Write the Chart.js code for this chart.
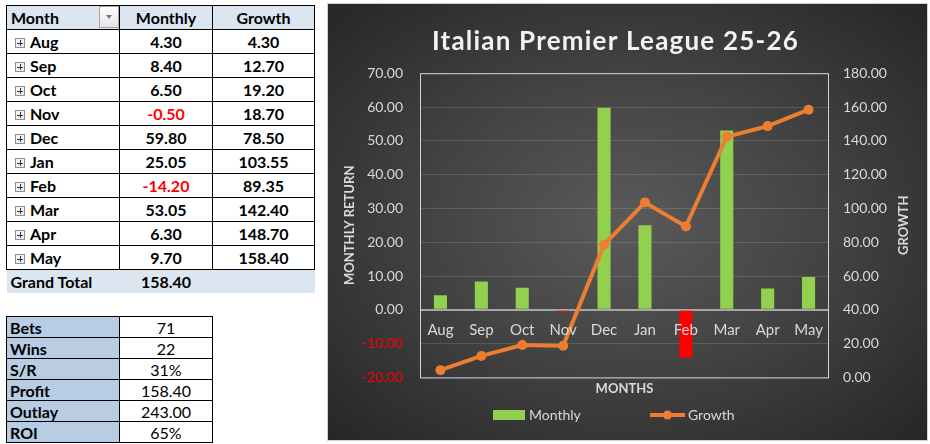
<!DOCTYPE html>
<html lang="en">
<head>
<meta charset="UTF-8">
<title>Italian Premier League 25-26</title>
<script src="https://cdn.jsdelivr.net/npm/chart.js@4.4.1/dist/chart.umd.min.js"></script>
<style>
  body { margin: 0; width: 930px; height: 444px; background: #fff; position: relative; overflow: hidden;
         font-family: Lato, "Open Sans", sans-serif; }
  table { border-collapse: collapse; position: absolute; table-layout: fixed; }
  td { padding: 0; font-size: 16px; color: #000; white-space: nowrap; }
  #pivot { left: 6px; top: 5px; }
  #pivot td { border: 1px solid #000; height: 23px; font-weight: bold; text-align: center; }
  #pivot tr.head td { background: #dce6f1; }
  #pivot td.m { text-align: left; padding-left: 8px; }
  #pivot tr.gt td { border: none; background: #dce6f1; }
  .neg { color: #ff0000 !important; }
  .pm { display: inline-block; width: 8px; height: 8px; border: 1px solid #8c8c8c; background: #f4f4f4;
        position: relative; margin-right: 5px; vertical-align: 0px; }
  .pm::before { content: ""; position: absolute; left: 1px; top: 3.5px; width: 6px; height: 1px; background: #333; }
  .pm::after { content: ""; position: absolute; left: 3.5px; top: 1px; width: 1px; height: 6px; background: #333; }
  #drop { position: absolute; left: 99px; top: 6px; width: 18px; height: 20px; border: 1px solid #a6a6a6;
          background: linear-gradient(#ffffff, #e4e4e4); }
  #drop::after { content: ""; position: absolute; left: 6px; top: 8px; border-left: 3.5px solid transparent;
                 border-right: 3.5px solid transparent; border-top: 4px solid #777; }
  #stats { left: 6px; top: 316px; }
  #stats td { border: 1px solid #000; height: 20px; text-align: center; }
  #stats td.lab { background: #b8cce4; font-weight: bold; text-align: left; padding-left: 3px; }
  #box { position: absolute; left: 327px; top: 3px; width: 599px; height: 436px; border: 1px solid #c8d2e2;
         background: radial-gradient(ellipse farthest-corner at 50% 50%, #5a5a5a 0%, #444 45%, #262626 100%); }
</style>
</head>
<body>
<table id="pivot">
  <colgroup><col style="width:113px"><col style="width:93px"><col style="width:102px"></colgroup>
</table>
<div id="drop"></div>
<table id="stats">
  <colgroup><col style="width:113px"><col style="width:93px"></colgroup>
</table>
<div id="box"><canvas id="chart"></canvas></div>
<script>
  // chart data
  const months = ['Aug', 'Sep', 'Oct', 'Nov', 'Dec', 'Jan', 'Feb', 'Mar', 'Apr', 'May'];
  const monthly = [4.30, 8.40, 6.50, -0.50, 59.80, 25.05, -14.20, 53.05, 6.30, 9.70];
  const growth = [4.30, 12.70, 19.20, 18.70, 78.50, 103.55, 89.35, 142.40, 148.70, 158.40];
  const grandTotal = 158.40;

  // summary table
  const statLabels = ['Bets', 'Wins', 'S/R', 'Profit', 'Outlay', 'ROI'];
  const statValues = ['71', '22', '31%', '158.40', '243.00', '65%'];

  const green = '#92d050';
  const red = '#ff0000';
  const orange = '#ed7d31';
  const light = '#d9d9d9';

  // pivot table on the left
  let html = '<tr class="head"><td class="m" style="padding-left:4px">Month</td><td>Monthly</td><td>Growth</td></tr>';
  months.forEach((m, i) => {
    const cls = monthly[i] < 0 ? ' class="neg"' : '';
    html += '<tr><td class="m"><span class="pm"></span>' + m + '</td><td' + cls + '>' +
      monthly[i].toFixed(2) + '</td><td>' + growth[i].toFixed(2) + '</td></tr>';
  });
  html += '<tr class="gt"><td class="m" style="padding-left:4px">Grand Total</td><td>' + grandTotal.toFixed(2) + '</td><td></td></tr>';
  document.getElementById('pivot').insertAdjacentHTML('beforeend', html);

  let shtml = '';
  statLabels.forEach((l, i) => {
    shtml += '<tr><td class="lab">' + l + '</td><td>' + statValues[i] + '</td></tr>';
  });
  document.getElementById('stats').insertAdjacentHTML('beforeend', shtml);

  // frame round the plot area
  const plotFrame = {
    id: 'plotFrame',
    beforeDatasetsDraw(chart) {
      const {ctx, chartArea: a} = chart;
      ctx.save();
      ctx.strokeStyle = '#c6d4ea';
      ctx.lineWidth = 1;
      ctx.strokeRect(a.left + 0.5, a.top + 0.5, a.right - a.left - 1, a.bottom - a.top);
      ctx.restore();
    }
  };

  // spaced out title letters, like the excel chart title
  const spacedTitle = {
    id: 'spacedTitle',
    afterLayout(chart) {
      const t = chart.titleBlock;
      if (!t || t._spaced) return;
      const draw = t.draw.bind(t);
      t.draw = function () {
        chart.ctx.save();
        chart.ctx.letterSpacing = '1.2px';
        chart.ctx.translate(-12, 0);
        draw();
        chart.ctx.restore();
      };
      t._spaced = true;
    }
  };

  // excel style legend (bar swatch + line with marker) and the right axis title read bottom-up
  const excelLegend = {
    id: 'excelLegend',
    afterDraw(chart) {
      const ctx = chart.ctx;
      const ds = chart.data.datasets;
      const y = 411;
      ctx.save();
      ctx.font = '14px Lato';
      ctx.textBaseline = 'middle';
      ctx.fillStyle = green;
      ctx.fillRect(165, y - 5, 32, 10);
      ctx.fillStyle = light;
      ctx.fillText(ds[0].label, 201, y);
      ctx.strokeStyle = orange;
      ctx.lineWidth = 4;
      ctx.beginPath();
      ctx.moveTo(322, y);
      ctx.lineTo(357, y);
      ctx.stroke();
      ctx.fillStyle = orange;
      ctx.beginPath();
      ctx.arc(339.5, y, 4.5, 0, Math.PI * 2);
      ctx.fill();
      ctx.fillStyle = light;
      ctx.fillText(ds[1].label, 360, y);

      const a = chart.chartArea;
      ctx.font = 'bold 13px Lato';
      ctx.textAlign = 'center';
      ctx.translate(576, (a.top + a.bottom) / 2);
      ctx.rotate(-Math.PI / 2);
      ctx.fillText('GROWTH', 0, 0);
      ctx.restore();
    }
  };

  Chart.defaults.font.family = 'Lato';
  Chart.defaults.color = light;

  new Chart(document.getElementById('chart'), {
    type: 'bar',
    data: {
      labels: months,
      datasets: [{
        label: 'Monthly',
        data: monthly,
        backgroundColor: monthly.map(v => v < 0 ? red : green),
        categoryPercentage: 0.4,
        barPercentage: 0.8,
        yAxisID: 'y',
        order: 1
      }, {
        type: 'line',
        label: 'Growth',
        data: growth,
        borderColor: orange,
        backgroundColor: orange,
        borderWidth: 4,
        pointRadius: 5,
        pointBackgroundColor: orange,
        pointBorderWidth: 0,
        tension: 0,
        yAxisID: 'y1',
        order: 0
      }]
    },
    options: {
      responsive: true,
      maintainAspectRatio: false,
      animation: false,
      layout: { padding: { top: 0, bottom: 39, left: 0, right: 0 } },
      plugins: {
        legend: { display: false },
        tooltip: { enabled: false },
        title: {
          display: true,
          text: 'Italian Premier League 25-26',
          color: '#f2f2f2',
          font: { size: 26, weight: 'bold' },
          padding: { top: 22, bottom: 16 }
        }
      },
      scales: {
        x: {
          type: 'category',
          position: { y: 0 },
          grid: { display: false, drawTicks: false },
          border: { display: false },
          ticks: { color: light, font: { size: 15 }, padding: 11, z: 1 }
        },
        x2: {
          type: 'category',
          labels: months,
          position: 'bottom',
          grid: { display: false, drawTicks: false },
          border: { display: false },
          ticks: { display: false },
          title: { display: true, text: 'MONTHS', color: light, font: { size: 13, weight: 'bold' }, padding: { top: 4, bottom: 4 } }
        },
        y: {
          position: 'left',
          min: -20,
          max: 70,
          afterFit(s) { s.width = 92; },
          ticks: {
            stepSize: 10,
            padding: 17,
            font: { size: 14 },
            color: c => c.tick.value < 0 ? red : light,
            callback: v => v.toFixed(2)
          },
          grid: {
            drawTicks: false,
            color: c => c.tick.value === 0 ? '#a6a6a6' : 'rgba(255,255,255,0.13)',
            lineWidth: c => c.tick.value === 0 ? 2 : 1
          },
          border: { display: false },
          title: { display: true, text: 'MONTHLY RETURN', color: light, font: { size: 13, weight: 'bold' }, padding: { top: 14, bottom: 0 } }
        },
        y1: {
          position: 'right',
          min: 0,
          max: 180,
          afterFit(s) { s.width = 98; },
          ticks: {
            stepSize: 20,
            padding: 14,
            font: { size: 14 },
            color: light,
            callback: v => v.toFixed(2)
          },
          grid: { display: false, drawTicks: false },
          border: { display: false }
        }
      }
    },
    plugins: [plotFrame, spacedTitle, excelLegend]
  });
</script>
</body>
</html>
